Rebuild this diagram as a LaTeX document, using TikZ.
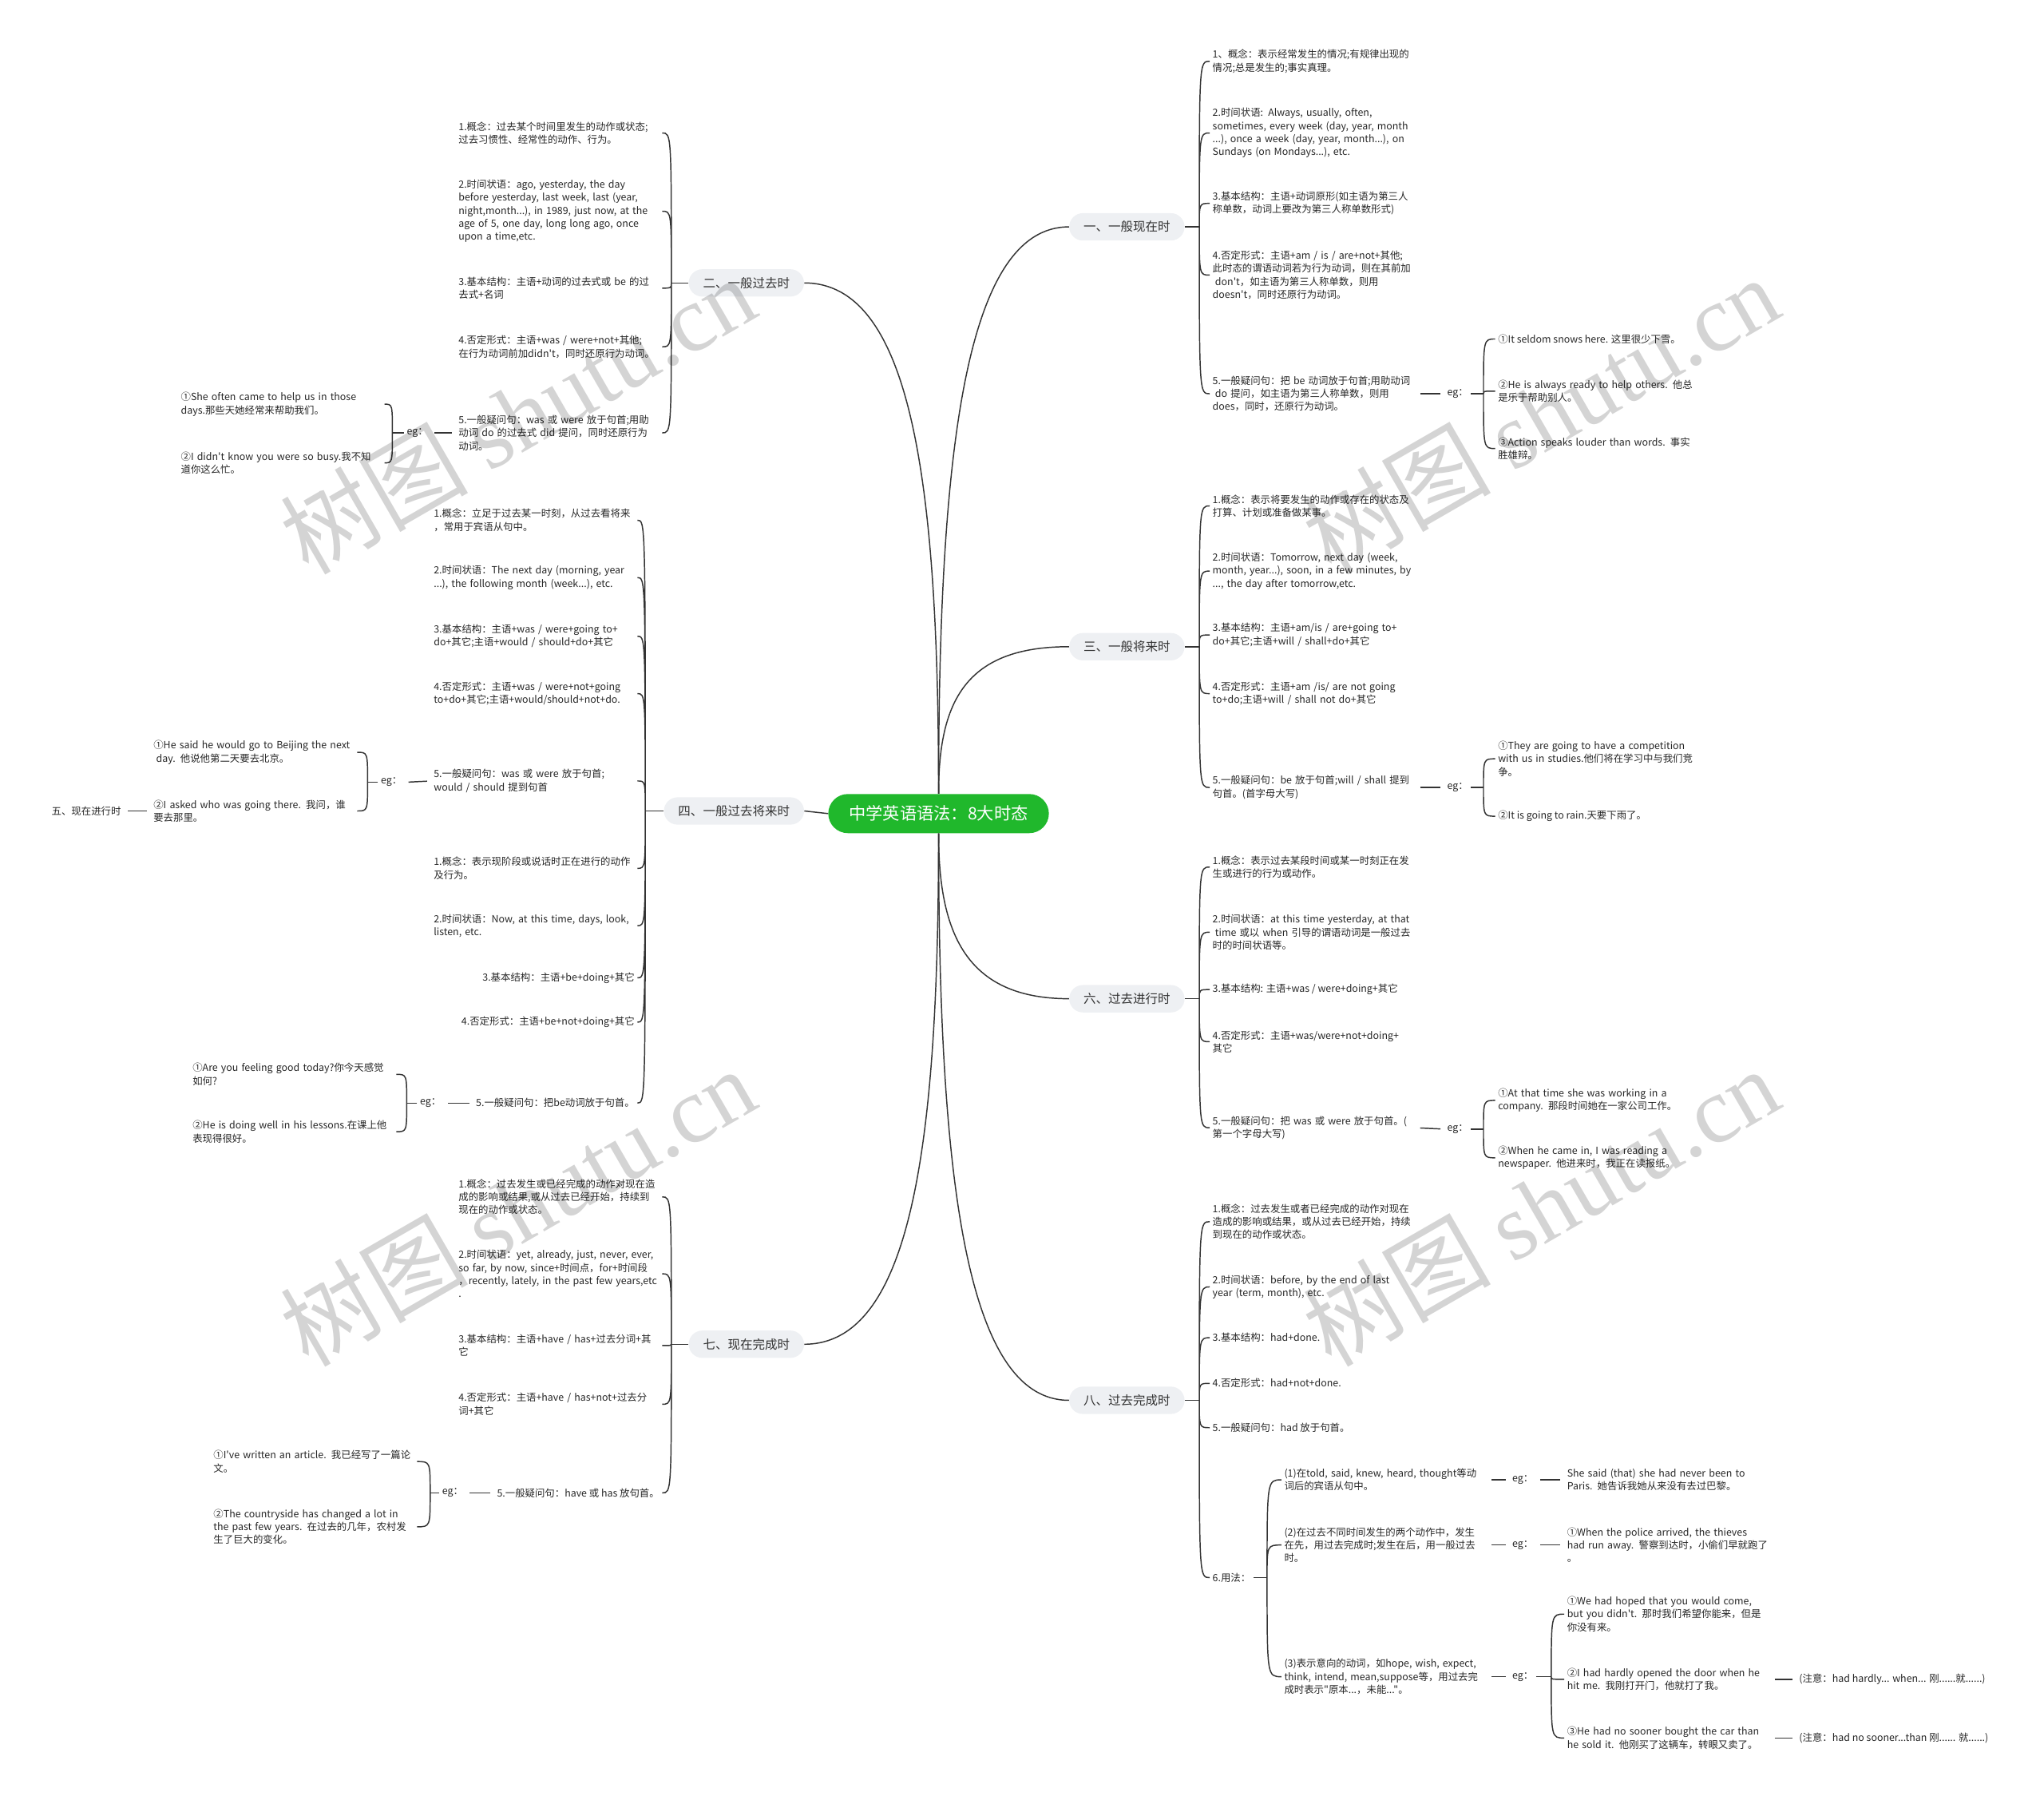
\documentclass[tikz,border=0pt]{standalone}
\usepackage{fontspec}
\setmainfont{Noto Sans CJK SC}[Ligatures=TeXOff]
\newfontfamily\stampfont{Liberation Serif}
\definecolor{pillgray}{HTML}{EEF0F3}
\definecolor{rootgreen}{RGB}{32,184,44}
\tikzset{
  root/.style={fill=rootgreen, text=white, rounded corners=15pt, minimum height=30pt, inner xsep=16pt, font=\fontsize{13}{15}\selectfont},
  tense/.style={fill=pillgray, text=black!80, rounded corners=10.5pt, minimum height=21pt, inner xsep=11pt, font=\fontsize{9.5}{11}\selectfont},
  item/.style={text=black!85, inner xsep=2pt, inner ysep=1pt, align=left, font=\fontsize{7.6}{10}\selectfont},
  wide/.style={item, text width=154pt},
  link/.style={draw=black!80, line width=0.9pt},
  gap/.style={shorten <=3pt, shorten >=3pt},
  tobrace/.style={to path={.. controls (\tikztostart |- \tikztotarget) .. (\tikztotarget)}},
  stamp/.style={text=black, text opacity=0.17, rotate=30, inner sep=0pt, font=\fontsize{72}{72}\selectfont}
}
\begin{document}
\begin{tikzpicture}[x=1pt, y=-1pt]
  \useasboundingbox (0,0) rectangle (1568,1380);

  \node (root) [root] at (720,624) {中学英语语法：8大时态};

  \node (t1) [tense, anchor=west] at (820,174) {一、一般现在时};
  \node (t3) [tense, anchor=west] at (820,496) {三、一般将来时};
  \node (t6) [tense, anchor=west] at (820,766) {六、过去进行时};
  \node (t8) [tense, anchor=west] at (820,1074) {八、过去完成时};
  \node (t2) [tense, anchor=east] at (617,217) {二、一般过去时};
  \node (t4) [tense, anchor=east] at (617,622) {四、一般过去将来时};
  \node (t7) [tense, anchor=east] at (617,1031) {七、现在完成时};

  \draw [link] (root.north) .. controls +(0,-260) and +(-80,0) .. (t1.west);
  \draw [link] (root.north) .. controls +(0,-70) and +(-80,0) .. (t3.west);
  \draw [link] (root.south) .. controls +(0,75) and +(-80,0) .. (t6.west);
  \draw [link] (root.south) .. controls +(0,260) and +(-80,0) .. (t8.west);
  \draw [link] (root.north) .. controls +(0,-235) and +(83,0) .. (t2.east);
  \draw [link] (root.west) -- (t4.east);
  \draw [link] (root.south) .. controls +(0,235) and +(83,0) .. (t7.east);

  % 一
  \coordinate (j1) at (920,174);
  \node (a1) [wide, anchor=west] at (928,47) {1、概念：表示经常发生的情况;有规律出现的\\情况;总是发生的;事实真理。};
  \node (a2) [wide, anchor=west] at (928,102) {2.时间状语: Always, usually, often,\\sometimes, every week (day, year, month\\...), once a week (day, year, month...), on\\Sundays (on Mondays...), etc.};
  \node (a3) [wide, anchor=west] at (928,156) {3.基本结构：主语+动词原形(如主语为第三人\\称单数，动词上要改为第三人称单数形式)};
  \node (a4) [wide, anchor=west] at (928,211) {4.否定形式：主语+am / is / are+not+其他;\\此时态的谓语动词若为行为动词，则在其前加\\\hspace*{2pt}don't，如主语为第三人称单数，则用\\doesn't，同时还原行为动词。};
  \node (a5) [wide, anchor=west] at (928,302) {5.一般疑问句：把 be 动词放于句首;用助动词\\\hspace*{2pt}do 提问，如主语为第三人称单数，则用\\does，同时，还原行为动词。};
  \node (a5eg) [item, anchor=west] at (1108,302) {eg：};
  \coordinate (a5j) at (1138,302);
  \node (a5x1) [item, anchor=west] at (1147,260) {①It seldom snows here. 这里很少下雪。};
  \node (a5x2) [wide, anchor=west] at (1147,300) {②He is always ready to help others. 他总\\是乐于帮助别人。};
  \node (a5x3) [wide, anchor=west] at (1147,344) {③Action speaks louder than words. 事实\\胜雄辩。};
  \draw [link] (t1.east) -- (j1);
  \draw [link] (j1) to[tobrace] (a1.west) (j1) to[tobrace] (a2.west) (j1) to[tobrace] (a3.west) (j1) to[tobrace] (a4.west) (j1) to[tobrace] (a5.west);
  \draw [link, gap] (a5.east) -- (a5eg.west);
  \draw [link] (a5eg.east) -- (a5j);
  \draw [link] (a5j) to[tobrace] (a5x1.west) (a5j) to[tobrace] (a5x2.west) (a5j) to[tobrace] (a5x3.west);

  % 三
  \coordinate (j3) at (920,496);
  \node (c1) [wide, anchor=west] at (928,388) {1.概念：表示将要发生的动作或存在的状态及\\打算、计划或准备做某事。};
  \node (c2) [wide, anchor=west] at (928,438) {2.时间状语：Tomorrow, next day (week,\\month, year...), soon, in a few minutes, by\\..., the day after tomorrow,etc.};
  \node (c3) [wide, anchor=west] at (928,487) {3.基本结构：主语+am/is / are+going to+\\do+其它;主语+will / shall+do+其它};
  \node (c4) [wide, anchor=west] at (928,532) {4.否定形式：主语+am /is/ are not going\\to+do;主语+will / shall not do+其它};
  \node (c5) [wide, anchor=west] at (928,604) {5.一般疑问句：be 放于句首;will / shall 提到\\句首。(首字母大写)};
  \node (c5eg) [item, anchor=west] at (1108,604) {eg：};
  \coordinate (c5j) at (1138,604);
  \node (c5x1) [wide, anchor=west] at (1147,582) {①They are going to have a competition\\with us in studies.他们将在学习中与我们竞\\争。};
  \node (c5x2) [item, anchor=west] at (1147,626) {②It is going to rain.天要下雨了。};
  \draw [link] (t3.east) -- (j3);
  \draw [link] (j3) to[tobrace] (c1.west) (j3) to[tobrace] (c2.west) (j3) to[tobrace] (c3.west) (j3) to[tobrace] (c4.west) (j3) to[tobrace] (c5.west);
  \draw [link, gap] (c5.east) -- (c5eg.west);
  \draw [link] (c5eg.east) -- (c5j);
  \draw [link] (c5j) to[tobrace] (c5x1.west) (c5j) to[tobrace] (c5x2.west);

  % 六
  \coordinate (j6) at (920,766);
  \node (f1) [wide, anchor=west] at (928,665) {1.概念：表示过去某段时间或某一时刻正在发\\生或进行的行为或动作。};
  \node (f2) [wide, anchor=west] at (928,715) {2.时间状语：at this time yesterday, at that\\\hspace*{2pt}time 或以 when 引导的谓语动词是一般过去\\时的时间状语等。};
  \node (f3) [item, anchor=west] at (928,759) {3.基本结构: 主语+was / were+doing+其它};
  \node (f4) [wide, anchor=west] at (928,799) {4.否定形式：主语+was/were+not+doing+\\其它};
  \node (f5) [wide, anchor=west] at (928,865) {5.一般疑问句：把 was 或 were 放于句首。(\\第一个字母大写)};
  \node (f5eg) [item, anchor=west] at (1108,866) {eg：};
  \coordinate (f5j) at (1138,866);
  \node (f5x1) [wide, anchor=west] at (1147,844) {①At that time she was working in a\\company. 那段时间她在一家公司工作。};
  \node (f5x2) [wide, anchor=west] at (1147,888) {②When he came in, I was reading a\\newspaper. 他进来时，我正在读报纸。};
  \draw [link] (t6.east) -- (j6);
  \draw [link] (j6) to[tobrace] (f1.west) (j6) to[tobrace] (f2.west) (j6) to[tobrace] (f3.west) (j6) to[tobrace] (f4.west) (j6) to[tobrace] (f5.west);
  \draw [link, gap] (f5.east) -- (f5eg.west);
  \draw [link] (f5eg.east) -- (f5j);
  \draw [link] (f5j) to[tobrace] (f5x1.west) (f5j) to[tobrace] (f5x2.west);

  % 八
  \coordinate (j8) at (920,1074);
  \node (h1) [wide, anchor=west] at (928,937) {1.概念：过去发生或者已经完成的动作对现在\\造成的影响或结果，或从过去已经开始，持续\\到现在的动作或状态。};
  \node (h2) [wide, anchor=west] at (928,987) {2.时间状语：before, by the end of last\\year (term, month), etc.};
  \node (h3) [item, anchor=west] at (928,1026) {3.基本结构：had+done.};
  \node (h4) [item, anchor=west] at (928,1061) {4.否定形式：had+not+done.};
  \node (h5) [item, anchor=west] at (928,1095) {5.一般疑问句：had 放于句首。};
  \node (h6) [item, anchor=west] at (928,1210) {6.用法：};
  \coordinate (h6j) at (972,1210);
  \node (u1) [wide, anchor=west] at (983,1135) {(1)在told, said, knew, heard, thought等动\\词后的宾语从句中。};
  \node (u2) [wide, anchor=west] at (983,1185) {(2)在过去不同时间发生的两个动作中，发生\\在先，用过去完成时;发生在后，用一般过去\\时。};
  \node (u3) [wide, anchor=west] at (983,1286) {(3)表示意向的动词，如hope, wish, expect,\\think, intend, mean,suppose等，用过去完\\成时表示"原本...，未能..."。};
  \node (u1eg) [item, anchor=west] at (1158,1135) {eg：};
  \node (u2eg) [item, anchor=west] at (1158,1185) {eg：};
  \node (u3eg) [item, anchor=west] at (1158,1286) {eg：};
  \coordinate (u3j) at (1190,1286);
  \node (u1x) [wide, anchor=west] at (1200,1135) {She said (that) she had never been to\\Paris. 她告诉我她从来没有去过巴黎。};
  \node (u2x) [wide, anchor=west] at (1200,1185) {①When the police arrived, the thieves\\had run away. 警察到达时，小偷们早就跑了\\。};
  \node (u3x1) [wide, anchor=west] at (1200,1238) {①We had hoped that you would come,\\but you didn't. 那时我们希望你能来，但是\\你没有来。};
  \node (u3x2) [wide, anchor=west] at (1200,1288) {②I had hardly opened the door when he\\hit me. 我刚打开门，他就打了我。};
  \node (u3x3) [wide, anchor=west] at (1200,1333) {③He had no sooner bought the car than\\he sold it. 他刚买了这辆车，转眼又卖了。};
  \node (n2) [item, anchor=west] at (1378,1288) {(注意：had hardly... when... 刚......就......)};
  \node (n3) [item, anchor=west] at (1378,1333) {(注意：had no sooner...than 刚...... 就......)};
  \draw [link] (t8.east) -- (j8);
  \draw [link] (j8) to[tobrace] (h1.west) (j8) to[tobrace] (h2.west) (j8) to[tobrace] (h3.west) (j8) to[tobrace] (h4.west) (j8) to[tobrace] (h5.west) (j8) to[tobrace] (h6.west);
  \draw [link] (h6.east) -- (h6j);
  \draw [link] (h6j) to[tobrace] (u1.west) (h6j) to[tobrace] (u2.west) (h6j) to[tobrace] (u3.west);
  \draw [link, gap] (u1.east) -- (u1eg.west);
  \draw [link, gap] (u1eg.east) -- (u1x.west);
  \draw [link, gap] (u2.east) -- (u2eg.west);
  \draw [link, gap] (u2eg.east) -- (u2x.west);
  \draw [link, gap] (u3.east) -- (u3eg.west);
  \draw [link] (u3eg.east) -- (u3j);
  \draw [link] (u3j) to[tobrace] (u3x1.west) (u3j) to[tobrace] (u3x2.west) (u3j) to[tobrace] (u3x3.west);
  \draw [link, gap] (u3x2.east) -- (n2.west);
  \draw [link, gap] (u3x3.east) -- (n3.west);

  % 二
  \coordinate (j2) at (515,217);
  \node (b1) [wide, anchor=east] at (508,102) {1.概念：过去某个时间里发生的动作或状态;\\过去习惯性、经常性的动作、行为。};
  \node (b2) [wide, anchor=east] at (508,162) {2.时间状语：ago, yesterday, the day\\before yesterday, last week, last (year,\\night,month...), in 1989, just now, at the\\age of 5, one day, long long ago, once\\upon a time,etc.};
  \node (b3) [wide, anchor=east] at (508,221) {3.基本结构：主语+动词的过去式或 be 的过\\去式+名词};
  \node (b4) [wide, anchor=east] at (508,266) {4.否定形式：主语+was / were+not+其他;\\在行为动词前加didn't，同时还原行为动词。};
  \node (b5) [wide, anchor=east] at (508,332) {5.一般疑问句：was 或 were 放于句首;用助\\动词 do 的过去式 did 提问，同时还原行为\\动词。};
  \node (b5eg) [item, anchor=west] at (310,332) {eg：};
  \coordinate (b5j) at (301,332);
  \node (b5x1) [wide, anchor=east] at (295,310) {①She often came to help us in those\\days.那些天她经常来帮助我们。};
  \node (b5x2) [wide, anchor=east] at (295,355) {②I didn't know you were so busy.我不知\\道你这么忙。};
  \draw [link] (t2.west) -- (j2);
  \draw [link] (j2) to[tobrace] (b1.east) (j2) to[tobrace] (b2.east) (j2) to[tobrace] (b3.east) (j2) to[tobrace] (b4.east) (j2) to[tobrace] (b5.east);
  \draw [link, gap] (b5.west) -- (b5eg.east);
  \draw [link] (b5eg.west) -- (b5j);
  \draw [link] (b5j) to[tobrace] (b5x1.east) (b5j) to[tobrace] (b5x2.east);

  % 四
  \coordinate (j4) at (495,622);
  \node (d1) [wide, anchor=east] at (489,399) {1.概念：立足于过去某一时刻，从过去看将来\\，常用于宾语从句中。};
  \node (d2) [wide, anchor=east] at (489,443) {2.时间状语：The next day (morning, year\\...), the following month (week...), etc.};
  \node (d3) [wide, anchor=east] at (489,488) {3.基本结构：主语+was / were+going to+\\do+其它;主语+would / should+do+其它};
  \node (d4) [wide, anchor=east] at (489,532) {4.否定形式：主语+was / were+not+going\\to+do+其它;主语+would/should+not+do.};
  \node (d5) [wide, anchor=east] at (489,599) {5.一般疑问句：was 或 were 放于句首;\\would / should 提到句首};
  \node (d5eg) [item, anchor=west] at (290,600) {eg：};
  \coordinate (d5j) at (282,600);
  \node (d5x1) [wide, anchor=east] at (274,577) {①He said he would go to Beijing the next\\\hspace*{2pt}day. 他说他第二天要去北京。};
  \node (d5x2) [wide, anchor=east] at (274,622) {②I asked who was going there. 我问，谁\\要去那里。};
  \node (t5) [item, anchor=east] at (95,622) {五、现在进行时};
  \node (d6) [wide, anchor=east] at (489,666) {1.概念：表示现阶段或说话时正在进行的动作\\及行为。};
  \node (d7) [wide, anchor=east] at (489,710) {2.时间状语：Now, at this time, days, look,\\listen, etc.};
  \node (d8) [item, anchor=east] at (489,750) {3.基本结构：主语+be+doing+其它};
  \node (d9) [item, anchor=east] at (489,784) {4.否定形式：主语+be+not+doing+其它};
  \node (d10) [item, anchor=east] at (489,846) {5.一般疑问句：把be动词放于句首。};
  \node (d10eg) [item, anchor=west] at (320,846) {eg：};
  \coordinate (d10j) at (312,846);
  \node (d10x1) [wide, anchor=east] at (304,824) {①Are you feeling good today?你今天感觉\\如何?};
  \node (d10x2) [wide, anchor=east] at (304,868) {②He is doing well in his lessons.在课上他\\表现得很好。};
  \draw [link] (t4.west) -- (j4);
  \draw [link] (j4) to[tobrace] (d1.east) (j4) to[tobrace] (d2.east) (j4) to[tobrace] (d3.east) (j4) to[tobrace] (d4.east) (j4) to[tobrace] (d5.east);
  \draw [link] (j4) to[tobrace] (d6.east) (j4) to[tobrace] (d7.east) (j4) to[tobrace] (d8.east) (j4) to[tobrace] (d9.east) (j4) to[tobrace] (d10.east);
  \draw [link, gap] (d5.west) -- (d5eg.east);
  \draw [link] (d5eg.west) -- (d5j);
  \draw [link] (d5j) to[tobrace] (d5x1.east) (d5j) to[tobrace] (d5x2.east);
  \draw [link, gap] (t5.east) -- (d5x2.west);
  \draw [link, gap] (d10.west) -- (d10eg.east);
  \draw [link] (d10eg.west) -- (d10j);
  \draw [link] (d10j) to[tobrace] (d10x1.east) (d10j) to[tobrace] (d10x2.east);

  % 七
  \coordinate (j7) at (515,1031);
  \node (e1) [wide, anchor=east] at (508,918) {1.概念：过去发生或已经完成的动作对现在造\\成的影响或结果,或从过去已经开始，持续到\\现在的动作或状态。};
  \node (e2) [wide, anchor=east] at (508,977) {2.时间状语：yet, already, just, never, ever,\\so far, by now, since+时间点，for+时间段\\，recently, lately, in the past few years,etc\\.};
  \node (e3) [wide, anchor=east] at (508,1032) {3.基本结构：主语+have / has+过去分词+其\\它};
  \node (e4) [wide, anchor=east] at (508,1077) {4.否定形式：主语+have / has+not+过去分\\词+其它};
  \node (e5) [item, anchor=east] at (508,1145) {5.一般疑问句：have 或 has 放句首。};
  \node (e5eg) [item, anchor=west] at (337,1145) {eg：};
  \coordinate (e5j) at (330,1145);
  \node (e5x1) [wide, anchor=east] at (320,1121) {①I've written an article. 我已经写了一篇论\\文。};
  \node (e5x2) [wide, anchor=east] at (320,1171) {②The countryside has changed a lot in\\the past few years. 在过去的几年，农村发\\生了巨大的变化。};
  \draw [link] (t7.west) -- (j7);
  \draw [link] (j7) to[tobrace] (e1.east) (j7) to[tobrace] (e2.east) (j7) to[tobrace] (e3.east) (j7) to[tobrace] (e4.east) (j7) to[tobrace] (e5.east);
  \draw [link, gap] (e5.west) -- (e5eg.east);
  \draw [link] (e5eg.west) -- (e5j);
  \draw [link] (e5j) to[tobrace] (e5x1.east) (e5j) to[tobrace] (e5x2.east);

  \node (wm1) [stamp] at (397,318) {树图 {\stampfont shutu.cn}};
  \node (wm2) [stamp] at (1182,318) {树图 {\stampfont shutu.cn}};
  \node (wm3) [stamp] at (397,925) {树图 {\stampfont shutu.cn}};
  \node (wm4) [stamp] at (1182,925) {树图 {\stampfont shutu.cn}};
\end{tikzpicture}
\end{document}
